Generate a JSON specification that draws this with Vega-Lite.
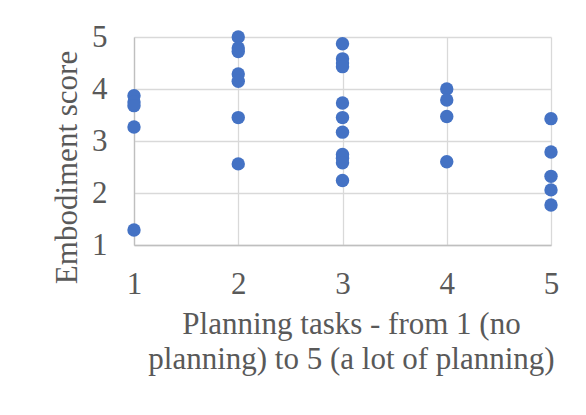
{
  "$schema": "https://vega.github.io/schema/vega-lite/v6.json",
  "autosize": "none",
  "width": 417,
  "height": 208,
  "padding": {"left": 134, "top": 37, "right": 35, "bottom": 170},
  "background": "white",
  "config": {
    "view": {"stroke": null},
    "font": "Liberation Serif",
    "axis": {
      "labelFont": "Liberation Serif",
      "titleFont": "Liberation Serif",
      "labelColor": "#595959",
      "titleColor": "#595959",
      "titleFontWeight": "normal",
      "gridColor": "#D9D9D9",
      "gridWidth": 1.3,
      "domainColor": "#BFBFBF",
      "domainWidth": 1.3,
      "ticks": false,
      "labelFlush": false,
      "labelOverlap": false
    }
  },
  "data": {
    "values": [
      {"planning": 1, "score": 3.87},
      {"planning": 1, "score": 3.75},
      {"planning": 1, "score": 3.68},
      {"planning": 1, "score": 3.27},
      {"planning": 1, "score": 1.29},
      {"planning": 2, "score": 5.0},
      {"planning": 2, "score": 4.79},
      {"planning": 2, "score": 4.72},
      {"planning": 2, "score": 4.29},
      {"planning": 2, "score": 4.15},
      {"planning": 2, "score": 3.45},
      {"planning": 2, "score": 2.56},
      {"planning": 3, "score": 4.87},
      {"planning": 3, "score": 4.58},
      {"planning": 3, "score": 4.5},
      {"planning": 3, "score": 4.43},
      {"planning": 3, "score": 3.73},
      {"planning": 3, "score": 3.45},
      {"planning": 3, "score": 3.17},
      {"planning": 3, "score": 2.74},
      {"planning": 3, "score": 2.67},
      {"planning": 3, "score": 2.58},
      {"planning": 3, "score": 2.24},
      {"planning": 4, "score": 4.0},
      {"planning": 4, "score": 3.79},
      {"planning": 4, "score": 3.47},
      {"planning": 4, "score": 2.6},
      {"planning": 5, "score": 3.43},
      {"planning": 5, "score": 2.79},
      {"planning": 5, "score": 2.32},
      {"planning": 5, "score": 2.06},
      {"planning": 5, "score": 1.77}
    ]
  },
  "mark": {"type": "circle", "size": 180, "color": "#4472C4", "opacity": 1},
  "encoding": {
    "x": {
      "field": "planning",
      "type": "quantitative",
      "scale": {"domain": [1, 5], "nice": false, "zero": false},
      "axis": {
        "values": [1, 2, 3, 4, 5],
        "labelFontSize": 31,
        "labelPadding": 24,
        "title": ["Planning tasks - from 1 (no", "planning) to 5 (a lot of planning)"],
        "titleFontSize": 31,
        "titleLineHeight": 35,
        "titlePadding": 10,
        "titleX": 217
      }
    },
    "y": {
      "field": "score",
      "type": "quantitative",
      "scale": {"domain": [1, 5], "nice": false, "zero": false},
      "axis": {
        "values": [1, 2, 3, 4, 5],
        "labelFontSize": 31,
        "labelPadding": 27,
        "title": "Embodiment score",
        "titleFontSize": 31,
        "titlePadding": 8,
        "titleY": 130
      }
    }
  }
}
